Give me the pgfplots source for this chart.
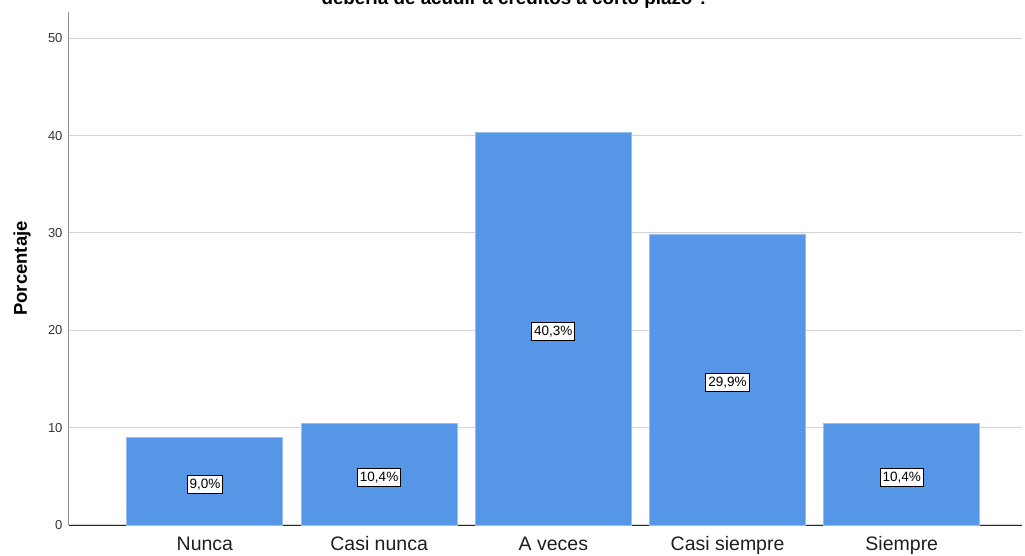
\documentclass[border=0pt]{standalone}
\usepackage{fontspec}
\setmainfont{Liberation Sans}
\usepackage{pgfplots}
\usepackage{pgfplotstable}
\pgfplotsset{compat=1.18}
\definecolor{barblue}{RGB}{85,150,230}
\definecolor{baredge}{RGB}{150,190,240}
\definecolor{gridgray}{RGB}{212,212,212}
\pgfplotstableread{
x y lab
0 9.0 {9,0\%}
1 10.4 {10,4\%}
2 40.3 {40,3\%}
3 29.9 {29,9\%}
4 10.4 {10,4\%}
}\data
\begin{document}
\begin{tikzpicture}
\begin{axis}[
  name=ax,
  scale only axis,
  width=953pt, height=513pt,
  xmin=-0.78, xmax=4.69,
  ymin=0, ymax=52.7,
  axis x line*=bottom,
  axis y line*=left,
  x axis line style={draw={rgb,255:red,40;green,40;blue,40}, line width=0.8pt, -},
  y axis line style={draw={rgb,255:red,140;green,140;blue,140}, line width=1pt, -},
  xtick={0,1,2,3,4},
  xticklabels={Nunca, Casi nunca, A veces, Casi siempre, Siempre},
  ytick={0,10,20,30,40,50},
  major tick length=0pt,
  ymajorgrids,
  grid style={draw=gridgray, line width=1pt},
  /pgf/number format/assume math mode=true,
  xticklabel style={font=\fontsize{19.5}{22}\selectfont, text={rgb,255:red,30;green,30;blue,30}, anchor=base, yshift=-26pt},
  yticklabel style={font=\fontsize{13}{15}\selectfont, text={rgb,255:red,50;green,50;blue,50}, xshift=-3pt},
  ylabel={\textbf{Porcentaje}},
  ylabel style={font=\fontsize{18.5}{21}\selectfont, at={(axis description cs:-0.0493,0.5)}, anchor=center},
  clip=false,
]
\addplot[ybar, bar width=156pt, fill=barblue, draw=baredge, line width=0.8pt] table[x=x, y=y] {\data};
\addplot[draw=none, mark=none, nodes near coords, point meta=explicit symbolic,
  every node near coord/.append style={anchor=center, yshift=-3pt, draw=black, line width=1pt, fill=white, inner xsep=2.5pt, inner ysep=3.5pt, font=\fontsize{13.5}{15}\selectfont, text=black}]
  table[x=x, y expr=\thisrow{y}/2, meta=lab] {\data};
\end{axis}
\node[anchor=base west, font=\bfseries\fontsize{18.8}{21}\selectfont] at ([xshift=249pt, yshift=520pt]ax.south west) {debería de acudir a créditos a corto plazo ?};
\pgfresetboundingbox
\path[use as bounding box] ([xshift=-69pt, yshift=-31pt]ax.south west) rectangle ++(1025pt,556pt);
\end{tikzpicture}
\end{document}
